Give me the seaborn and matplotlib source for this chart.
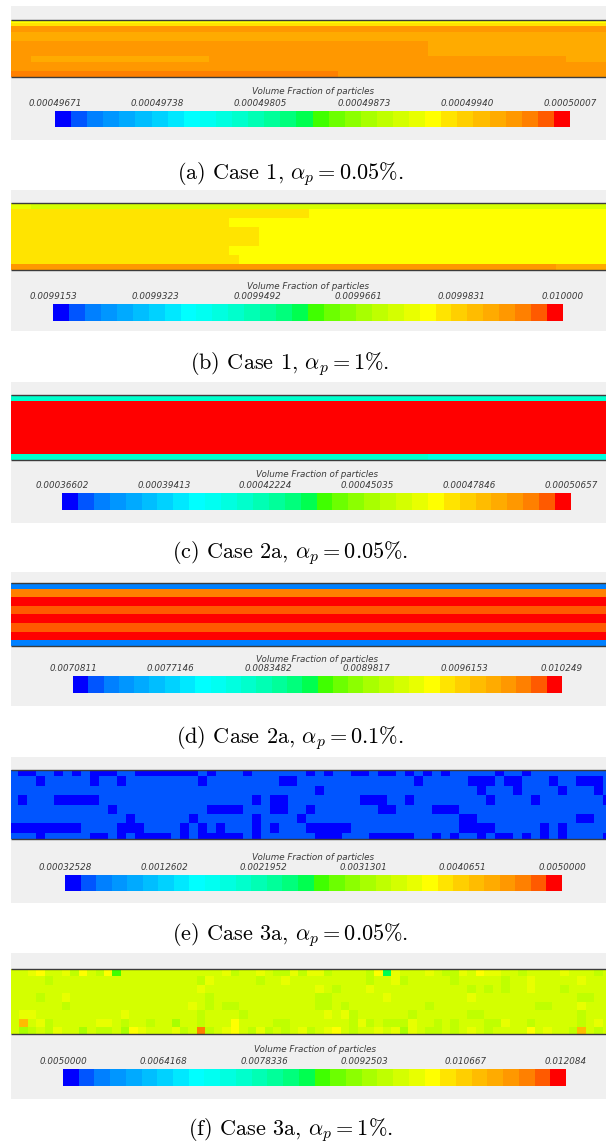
import numpy as np
import matplotlib
matplotlib.use("Agg")
import matplotlib.pyplot as plt
from matplotlib.colors import ListedColormap, BoundaryNorm
from matplotlib.cm import ScalarMappable
from matplotlib.patches import Rectangle
import seaborn as sns

# ---------------------------------------------------------------- palette
# 32-band contour palette: blue -> cyan -> green -> yellow -> red
band_colors = [
    "#0000ff", "#0055ff", "#0080ff", "#0096ff", "#00aaff", "#00beff", "#00d2ff", "#00e8ff",
    "#00ffff", "#00fff2", "#00ffe0", "#00ffcc", "#00ffb4", "#00ff9a", "#00ff7c", "#00ff50",
    "#40ff00", "#6cff00", "#8cff00", "#a8ff00", "#bfff00", "#d4ff00", "#e8ff00", "#ffff00",
    "#ffe400", "#ffcf00", "#ffbc00", "#ffab00", "#ff9800", "#ff8000", "#ff5a00", "#ff0000",
]

colorbar_title = "Volume Fraction of particles"

# ---------------------------------------------------------------- colorbar labels
labels_a = ["0.00049671", "0.00049738", "0.00049805", "0.00049873", "0.00049940", "0.00050007"]
labels_b = ["0.0099153", "0.0099323", "0.0099492", "0.0099661", "0.0099831", "0.010000"]
labels_c = ["0.00036602", "0.00039413", "0.00042224", "0.00045035", "0.00047846", "0.00050657"]
labels_d = ["0.0070811", "0.0077146", "0.0083482", "0.0089817", "0.0096153", "0.010249"]
labels_e = ["0.00032528", "0.0012602", "0.0021952", "0.0031301", "0.0040651", "0.0050000"]
labels_f = ["0.0050000", "0.0064168", "0.0078336", "0.0092503", "0.010667", "0.012084"]

# ---------------------------------------------------------------- captions
caption_a = r"(a) Case 1, $\alpha_p = 0.05\%$."
caption_b = r"(b) Case 1, $\alpha_p = 1\%$."
caption_c = r"(c) Case 2a, $\alpha_p = 0.05\%$."
caption_d = r"(d) Case 2a, $\alpha_p = 0.1\%$."
caption_e = r"(e) Case 3a, $\alpha_p = 0.05\%$."
caption_f = r"(f) Case 3a, $\alpha_p = 1\%$."

# ---------------------------------------------------------------- contour fields
# Each field is a list of rows; each character is a contour band (see its key).
key_a = {"Y": 23, "y": 24, "A": 27, "O": 28, "D": 29}
field_a = (
    ["Y" * 60]
    + ["y" * 60]
    + ["O" * 60] * 2
    + ["A" * 60] * 3
    + ["O" * 42 + "A" * 18] * 5
    + ["O" * 2 + "A" * 18 + "O" * 36 + "A" * 4] * 2
    + ["O" * 60] * 3
    + ["D" * 33 + "O" * 27] * 2
)

key_b = {"L": 21, "l": 22, "Y": 23, "G": 24, "A": 27, "O": 28}
field_b = (
    ["l" * 2 + "L" * 58] * 2
    + ["G" * 30 + "Y" * 30] * 3
    + ["G" * 22 + "Y" * 38] * 3
    + ["G" * 25 + "Y" * 35] * 6
    + ["G" * 22 + "Y" * 38] * 3
    + ["G" * 23 + "Y" * 37] * 3
    + ["O" * 55 + "A" * 5] * 2
)

key_c = {"t": 10, "T": 11, "R": 31}
field_c = (
    ["T" * 60] * 2
    + ["R" * 60] * 17
    + ["T" * 42 + "t" * 18] * 2
)

key_d = {"B": 2, "O": 29, "Q": 30, "R": 31}
field_d = (
    ["B" * 60] * 2
    + ["O" * 60] * 3
    + ["R" * 60] * 3
    + ["Q" * 60] * 3
    + ["R" * 60] * 3
    + ["Q" * 60] * 3
    + ["R" * 60] * 3
    + ["B" * 60] * 2
)

key_e = {"#": 0, ".": 1}
field_e = [
    ".##..#.#.#" "##..######" "#.#...#..." "...#.#..##" ".##.#.#.#." "....#..#.." ".......",
    "...#.....#" "..#......." ".#........" "##........" ".....#...." ".###.##..." "#..###.",
    ".........." ".........." ".........." "....#....." ".........." "..#...#..." ".#...#.",
    ".#...#####" ".........." ".......#.#" "#........#" "##..#....." "...#....#." "......#",
    ".........." ".#........" "..####...#" "#..#......" ".##....###" ".........." ".......",
    ".........." "...#......" "#......#.." "..#......." ".........." "##........" "...##..",
    "########.." "..###....#" ".#.#...#.#" "...#####.." ".........." "####.....#" ".#.....",
    "...#.....#" "#.#.####.#" ".#####.#.." "....###..." "#####..#.#" "..#.##.#.#" ".#....#",
]

key_f = {".": 21, "g": 20, "G": 19, "y": 22, "Y": 23, "o": 26, "O": 29, "E": 16, "T": 15}
field_f = [
    "..yY..ygY." "gYE......." ".....yg..y" ".ggygyyg.." "..gYTy...y" ".ggy.Yyy.." "g....y...g.",
    "....g....." ".........." "..gy.....g" "..y......." "..g..yg..." "..g.....g." ".y.....y...",
    ".........." ".........." "..y......." "......y.g." "..y......." "....g.g.g." ".y...g.....",
    "...g..y..." ".........." "...g......" "......gg.." "....y....." "....y....." ".......gg..",
    "......g..." ".........." ".y.g.gg..." "......gg.g" ".........g" ".........." "..gg...y...",
    ".yy......." "...y......" "..g....g.." ".......y.y" "g......g.." "....gg...." ".......g...",
    ".o.yg....." "yy.g..g..G" "..g...Y..." ".gg......." "gyg.gggy.." "g.g...ggy." ".g.....g.y.",
    ".Gg.gy..G." "gg.GYy...y" "g.Og.yY.gy" "g.g.yg.yY." "g..y.yGy.g" "g.g.y.g..." ".Y.y..go.g.",
]

panels = [
    (field_a, key_a, labels_a, caption_a),
    (field_b, key_b, labels_b, caption_b),
    (field_c, key_c, labels_c, caption_c),
    (field_d, key_d, labels_d, caption_d),
    (field_e, key_e, labels_e, caption_e),
    (field_f, key_f, labels_f, caption_f),
]

# ---------------------------------------------------------------- layout (pixels)
W, H = 606, 1146
BOX_X0, BOX_X1 = 11, 606
CAPTION_X = 290
layout = [
    # box top/bottom, field top/bottom, colorbar x0,x1,y0,y1, title y, caption y, view limits
    dict(box=(6, 140), field=(20, 77), cbar=(55, 570, 111, 127), title=91, cap=174, view=None),
    dict(box=(190, 331), field=(203, 270), cbar=(53, 563, 304, 321), title=286, cap=364, view=None),
    dict(box=(382, 523), field=(395, 460), cbar=(62, 571, 493, 510), title=475, cap=553, view=None),
    dict(box=(572, 706), field=(583, 646), cbar=(73, 562, 676, 693), title=660, cap=738, view=None),
    dict(box=(757, 903), field=(770, 839), cbar=(65, 562, 875, 891), title=857, cap=935,
         view=((0.19, 66.3), (7.66, 0.34))),
    dict(box=(953, 1099), field=(969, 1034), cbar=(63, 566, 1069, 1086), title=1050, cap=1130,
         view=((0.0, 70.4), (7.79, 0.13))),
]

sns.set_theme(style="white")
plt.rcParams["font.family"] = ["DejaVu Sans"]
plt.rcParams["mathtext.fontset"] = "cm"

fig = plt.figure(figsize=(W / 100, H / 100), dpi=100)
fig.patch.set_facecolor("white")

cmap = ListedColormap(band_colors)
text_grey = "#3a3a3a"


def px_axes(x0, y0, x1, y1):
    return fig.add_axes([x0 / W, 1 - y1 / H, (x1 - x0) / W, (y1 - y0) / H])


for (rows, key, labels, caption), lay in zip(panels, layout):
    ticks = [float(s) for s in labels]
    vmin, vmax = ticks[0], ticks[-1]
    norm = BoundaryNorm(np.linspace(vmin, vmax, len(band_colors) + 1), len(band_colors))

    # light grey scene background
    b0, b1 = lay["box"]
    fig.add_artist(Rectangle((BOX_X0 / W, 1 - b1 / H), (BOX_X1 - BOX_X0) / W, (b1 - b0) / H,
                             transform=fig.transFigure, facecolor="#f0f0f0",
                             edgecolor="none", zorder=0))

    # contour field
    levels = np.array([[key[ch] for ch in row] for row in rows])
    values = vmin + (levels + 0.5) * (vmax - vmin) / len(band_colors)
    f0, f1 = lay["field"]
    ax = px_axes(BOX_X0, f0, BOX_X1, f1)
    sns.heatmap(values, ax=ax, cmap=cmap, norm=norm, cbar=False,
                xticklabels=False, yticklabels=False)
    if lay["view"] is not None:
        ax.set_xlim(*lay["view"][0])
        ax.set_ylim(*lay["view"][1])
    for yy in (0, 1):
        ax.plot([0, 1], [yy, yy], transform=ax.transAxes, color="#3c3c3c",
                lw=1.0, clip_on=False, solid_capstyle="butt")

    # colorbar with its value labels on top
    cx0, cx1, cy0, cy1 = lay["cbar"]
    cax = px_axes(cx0, cy0, cx1, cy1)
    cb = fig.colorbar(ScalarMappable(norm=norm, cmap=cmap), cax=cax, orientation="horizontal")
    cb.outline.set_visible(False)
    cb.minorticks_off()
    cax.xaxis.set_ticks_position("top")
    cb.set_ticks(ticks, labels=labels, fontstyle="italic", fontsize=6.3, color=text_grey)
    cax.tick_params(axis="x", which="both", length=0, pad=2.2)
    fig.text((cx0 + cx1) / 2 / W, 1 - lay["title"] / H, colorbar_title, ha="center",
             va="center", fontstyle="italic", fontsize=6.3, color=text_grey)

    # sub-figure caption
    fig.text(CAPTION_X / W, 1 - (lay["cap"] + 5.5) / H, caption, ha="center", va="baseline",
             family="cmr10", fontsize=16, color="black")

fig.savefig("out.png", dpi=100, facecolor="white")
